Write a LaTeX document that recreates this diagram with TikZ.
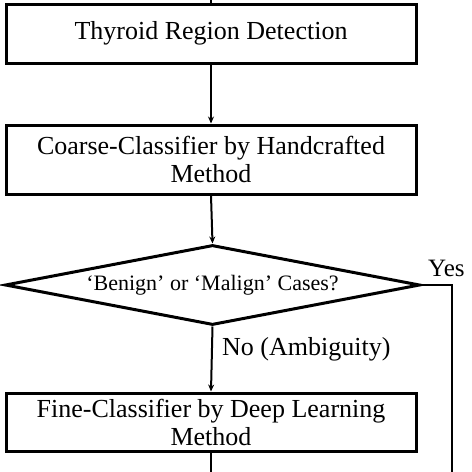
\documentclass[tikz,border=0pt]{standalone}
\usepackage{fontspec}
\setmainfont{Liberation Serif}
\usetikzlibrary{shapes.geometric,arrows.meta}
\tikzset{
  procbox/.style={draw=black, line width=3pt, rectangle, minimum width=410pt, align=center, inner sep=0pt, font=\fontsize{26}{28}\selectfont},
  decbox/.style={draw=black, line width=3pt, diamond, aspect=5.19, minimum width=415pt, minimum height=80pt, inner sep=0pt, font=\fontsize{22}{24}\selectfont},
  flow/.style={line width=2pt, -{Stealth[length=7pt,width=6pt]}},
  plain/.style={line width=2pt},
  thin/.style={line width=1.3pt},
  lbl/.style={font=\fontsize{26}{28}\selectfont, inner sep=0pt}
}
\begin{document}
\begin{tikzpicture}[x=1pt,y=-1pt]
\useasboundingbox (0,0) rectangle (472,472);
\node[procbox, minimum height=59pt] (det) at (211,33.5) {Thyroid Region Detection};
\node[procbox, minimum height=69pt] (coarse) at (211,159.5) {Coarse-Classifier by Handcrafted\\Method};
\node[decbox] (dec) at (212.5,285) {`Benign' or `Malign' Cases?};
\node[procbox, minimum height=58pt] (fine) at (211,422) {Fine-Classifier by Deep Learning\\Method};
\coordinate (top) at (211,0);
\coordinate (bot) at (211,472);
\coordinate (yc) at (452,285);
\coordinate (yb) at (452,472);
\draw[plain] (top) -- (det.north);
\draw[flow] (det.south) -- (coarse.north);
\draw[flow] (coarse.south) -- (dec.north);
\draw[flow] (dec.south) -- (fine.north);
\draw[plain] (fine.south) -- (bot);
\draw[thin] (dec.east) -- (yc) -- (yb);
\node[lbl, anchor=west, font=\fontsize{25}{28}\selectfont] (yes) at (428,268) {Yes};
\node[lbl, anchor=west] (no) at (222,349) {No (Ambiguity)};
\end{tikzpicture}
\end{document}
